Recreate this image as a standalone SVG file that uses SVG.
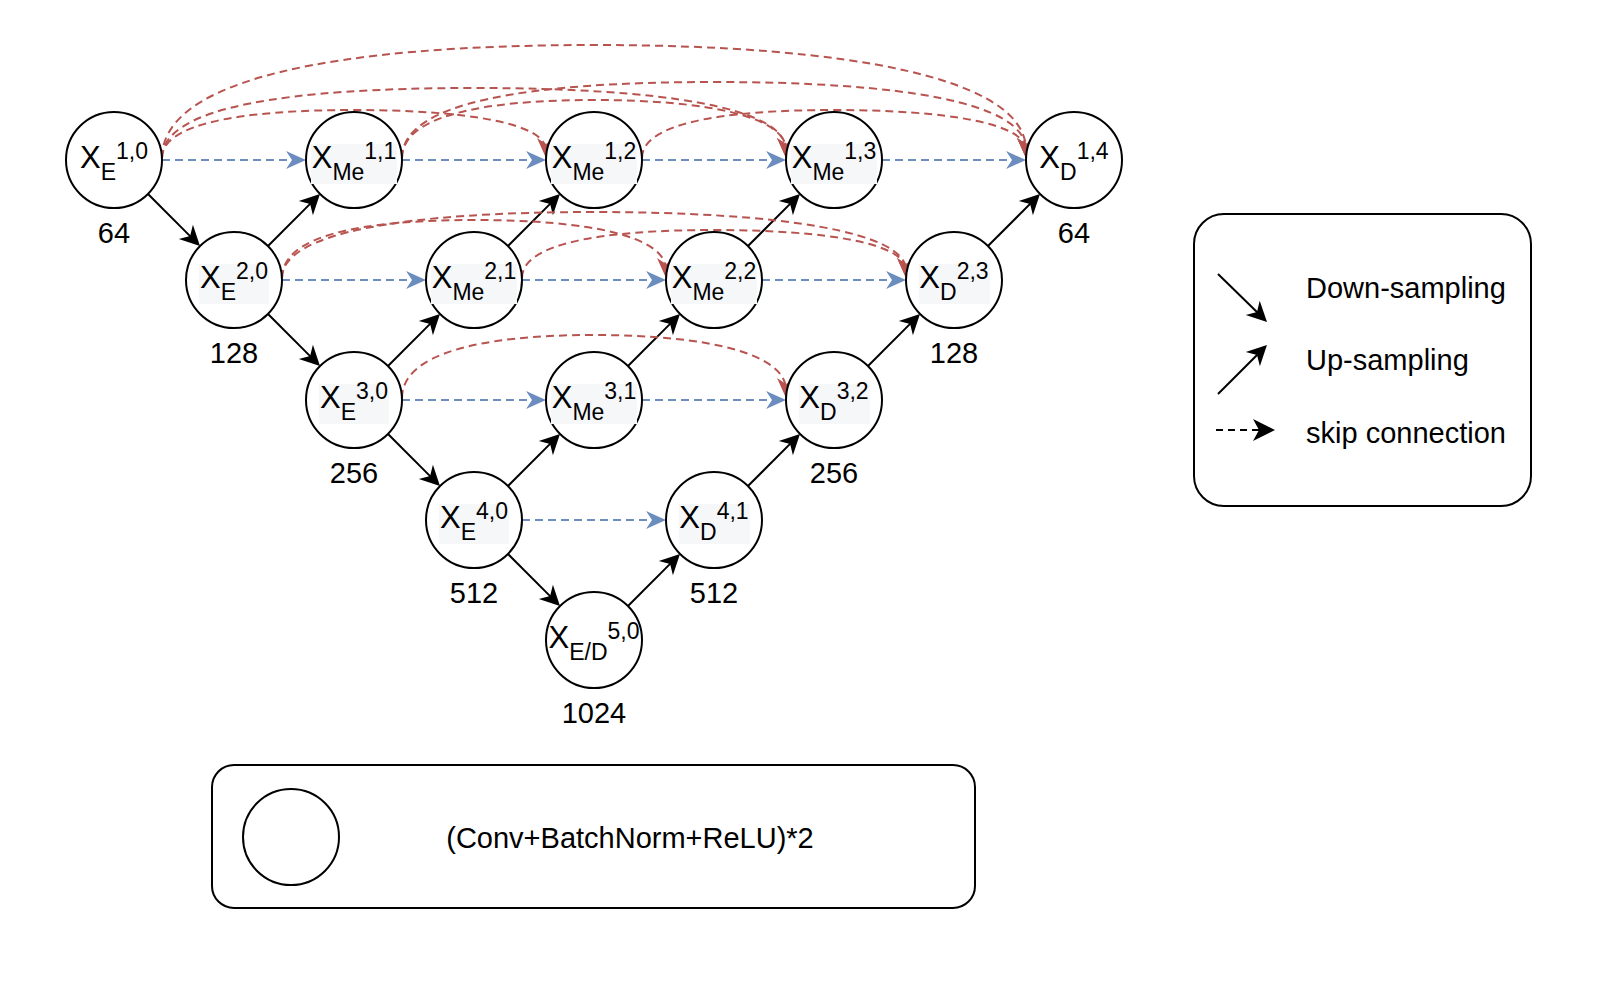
<svg xmlns="http://www.w3.org/2000/svg" width="1608" height="984" viewBox="0 0 1608 984">
<style>
text{font-family:"Liberation Sans",Arial,Helvetica,sans-serif;fill:#000}
.nd{fill:#fff;stroke:#000;stroke-width:2}
.bg{fill:#f6f7f9}
.lbl{font-size:31px;text-anchor:middle}
.ss{font-size:23px}
.num{font-size:29px;text-anchor:middle}
.leg{font-size:29px}
.blk{fill:none;stroke:#000;stroke-width:2;marker-end:url(#ak)}
.blu{fill:none;stroke:#6c8ebf;stroke-width:2;stroke-dasharray:8 5;marker-end:url(#ab)}
.red{fill:none;stroke:#b85450;stroke-width:2;stroke-dasharray:8 5;marker-end:url(#ar)}
.box{fill:#fff;stroke:#000;stroke-width:2}
</style>
<defs>
<marker id="ak" viewBox="-22 -11 24 22" refX="-8" refY="0" markerWidth="24" markerHeight="22" markerUnits="userSpaceOnUse" orient="auto"><path d="M0,0 L-20,-10 L-14,0 L-20,10 Z" fill="#000"/></marker>
<marker id="ab" viewBox="-22 -11 24 22" refX="-8" refY="0" markerWidth="24" markerHeight="22" markerUnits="userSpaceOnUse" orient="auto"><path d="M0,0 L-20,-9 L-14,0 L-20,9 Z" fill="#6c8ebf"/></marker>
<marker id="ar" viewBox="-22 -11 24 22" refX="-8" refY="0" markerWidth="24" markerHeight="22" markerUnits="userSpaceOnUse" orient="auto"><path d="M0,0 L-20,-9 L-14,0 L-20,9 Z" fill="#b85450"/></marker>
<marker id="akl" viewBox="-24 -12 26 24" refX="-8" refY="0" markerWidth="26" markerHeight="24" markerUnits="userSpaceOnUse" orient="auto"><path d="M0,0 L-22,-11 L-16,0 L-22,11 Z" fill="#000"/></marker>
</defs>

<g id="connectors">
<g id="down-sampling">
<path class="blk" d="M148,194 L194.34,240.34"/>
<path class="blk" d="M268,314 L314.34,360.34"/>
<path class="blk" d="M388,434 L434.34,480.34"/>
<path class="blk" d="M508,554 L554.34,600.34"/>
</g>
<g id="up-sampling">
<path class="blk" d="M268,246 L314.34,199.66"/>
<path class="blk" d="M388,366 L434.34,319.66"/>
<path class="blk" d="M508,246 L554.34,199.66"/>
<path class="blk" d="M508,486 L554.34,439.66"/>
<path class="blk" d="M628,366 L674.34,319.66"/>
<path class="blk" d="M748,246 L794.34,199.66"/>
<path class="blk" d="M628,606 L674.34,559.66"/>
<path class="blk" d="M748,486 L794.34,439.66"/>
<path class="blk" d="M868,366 L914.34,319.66"/>
<path class="blk" d="M988,246 L1034.34,199.66"/>
</g>
<g id="skip-blue">
<path class="blu" d="M162,160 H298"/>
<path class="blu" d="M402,160 H538"/>
<path class="blu" d="M642,160 H778"/>
<path class="blu" d="M882,160 H1018"/>
<path class="blu" d="M282,280 H418"/>
<path class="blu" d="M522,280 H658"/>
<path class="blu" d="M762,280 H898"/>
<path class="blu" d="M402,400 H538"/>
<path class="blu" d="M642,400 H778"/>
<path class="blu" d="M522,520 H658"/>
</g>
<g id="skip-red">
<path class="red" d="M162,158 C162,124 239,110 354,110 S546,124 546,150"/>
<path class="red" d="M162,158 C162,107 287,88 474,88 S786,107 786,150"/>
<path class="red" d="M162,158 C162,79 335,45 594,45 S1026,79 1026,150"/>
<path class="red" d="M402,158 C402,117 479,100 594,100 S786,117 786,150"/>
<path class="red" d="M402,158 C402,102 527,82 714,82 S1026,102 1026,150"/>
<path class="red" d="M642,158 C642,124 719,110 834,110 S1026,124 1026,150"/>
<path class="red" d="M282,278 C282,236 359,220 474,220 S666,236 666,270"/>
<path class="red" d="M282,278 C282,232 407,212 594,212 S906,232 906,270"/>
<path class="red" d="M522,278 C522,244 599,230 714,230 S906,244 906,270"/>
<path class="red" d="M402,398 C402,354 479,335 594,335 S786,354 786,390"/>
</g>
</g>

<g id="n-e10"><circle class="nd" cx="114" cy="160" r="48"/><text class="lbl" x="114" y="168">X<tspan class="ss" dy="12">E</tspan><tspan class="ss" dy="-21">1,0</tspan></text><text class="num" x="114" y="243">64</text></g>
<g id="n-me11"><circle class="nd" cx="354" cy="160" r="48"/><rect class="bg" x="311" y="144" width="86" height="40"/><text class="lbl" x="354" y="168">X<tspan class="ss" dy="12">Me</tspan><tspan class="ss" dy="-21">1,1</tspan></text></g>
<g id="n-me12"><circle class="nd" cx="594" cy="160" r="48"/><rect class="bg" x="551" y="144" width="86" height="40"/><text class="lbl" x="594" y="168">X<tspan class="ss" dy="12">Me</tspan><tspan class="ss" dy="-21">1,2</tspan></text></g>
<g id="n-me13"><circle class="nd" cx="834" cy="160" r="48"/><rect class="bg" x="791" y="144" width="86" height="40"/><text class="lbl" x="834" y="168">X<tspan class="ss" dy="12">Me</tspan><tspan class="ss" dy="-21">1,3</tspan></text></g>
<g id="n-d14"><circle class="nd" cx="1074" cy="160" r="48"/><text class="lbl" x="1074" y="168">X<tspan class="ss" dy="12">D</tspan><tspan class="ss" dy="-21">1,4</tspan></text><text class="num" x="1074" y="243">64</text></g>

<g id="n-e20"><circle class="nd" cx="234" cy="280" r="48"/><rect class="bg" x="199" y="264" width="70" height="40"/><text class="lbl" x="234" y="288">X<tspan class="ss" dy="12">E</tspan><tspan class="ss" dy="-21">2,0</tspan></text><text class="num" x="234" y="363">128</text></g>
<g id="n-me21"><circle class="nd" cx="474" cy="280" r="48"/><rect class="bg" x="431" y="264" width="86" height="40"/><text class="lbl" x="474" y="288">X<tspan class="ss" dy="12">Me</tspan><tspan class="ss" dy="-21">2,1</tspan></text></g>
<g id="n-me22"><circle class="nd" cx="714" cy="280" r="48"/><rect class="bg" x="671" y="264" width="86" height="40"/><text class="lbl" x="714" y="288">X<tspan class="ss" dy="12">Me</tspan><tspan class="ss" dy="-21">2,2</tspan></text></g>
<g id="n-d23"><circle class="nd" cx="954" cy="280" r="48"/><rect class="bg" x="919" y="264" width="71" height="40"/><text class="lbl" x="954" y="288">X<tspan class="ss" dy="12">D</tspan><tspan class="ss" dy="-21">2,3</tspan></text><text class="num" x="954" y="363">128</text></g>

<g id="n-e30"><circle class="nd" cx="354" cy="400" r="48"/><rect class="bg" x="319" y="384" width="70" height="40"/><text class="lbl" x="354" y="408">X<tspan class="ss" dy="12">E</tspan><tspan class="ss" dy="-21">3,0</tspan></text><text class="num" x="354" y="483">256</text></g>
<g id="n-me31"><circle class="nd" cx="594" cy="400" r="48"/><rect class="bg" x="551" y="384" width="86" height="40"/><text class="lbl" x="594" y="408">X<tspan class="ss" dy="12">Me</tspan><tspan class="ss" dy="-21">3,1</tspan></text></g>
<g id="n-d32"><circle class="nd" cx="834" cy="400" r="48"/><rect class="bg" x="799" y="384" width="71" height="40"/><text class="lbl" x="834" y="408">X<tspan class="ss" dy="12">D</tspan><tspan class="ss" dy="-21">3,2</tspan></text><text class="num" x="834" y="483">256</text></g>

<g id="n-e40"><circle class="nd" cx="474" cy="520" r="48"/><rect class="bg" x="439" y="504" width="70" height="40"/><text class="lbl" x="474" y="528">X<tspan class="ss" dy="12">E</tspan><tspan class="ss" dy="-21">4,0</tspan></text><text class="num" x="474" y="603">512</text></g>
<g id="n-d41"><circle class="nd" cx="714" cy="520" r="48"/><rect class="bg" x="679" y="504" width="71" height="40"/><text class="lbl" x="714" y="528">X<tspan class="ss" dy="12">D</tspan><tspan class="ss" dy="-21">4,1</tspan></text><text class="num" x="714" y="603">512</text></g>

<g id="n-ed50"><circle class="nd" cx="594" cy="640" r="48"/><text class="lbl" x="594" y="648">X<tspan class="ss" dy="12">E/D</tspan><tspan class="ss" dy="-21">5,0</tspan></text><text class="num" x="594" y="723">1024</text></g>

<g id="legend">
<rect class="box" x="1194" y="214" width="337" height="292" rx="30"/>
<path fill="none" stroke="#000" stroke-width="2" marker-end="url(#ak)" d="M1218,274 L1261.3,316.3"/>
<path fill="none" stroke="#000" stroke-width="2" marker-end="url(#ak)" d="M1218,394 L1261.3,350.7"/>
<path fill="none" stroke="#000" stroke-width="2" stroke-dasharray="7 5" marker-end="url(#akl)" d="M1216,430 H1267"/>
<text class="leg" x="1306" y="298">Down-sampling</text>
<text class="leg" x="1306" y="370">Up-sampling</text>
<text class="leg" x="1306" y="443">skip connection</text>
</g>

<g id="block-legend">
<rect class="box" x="212" y="765" width="763" height="143" rx="22"/>
<circle class="nd" cx="291" cy="837" r="48"/>
<text class="leg" x="630" y="848" text-anchor="middle">(Conv+BatchNorm+ReLU)*2</text>
</g>
</svg>
